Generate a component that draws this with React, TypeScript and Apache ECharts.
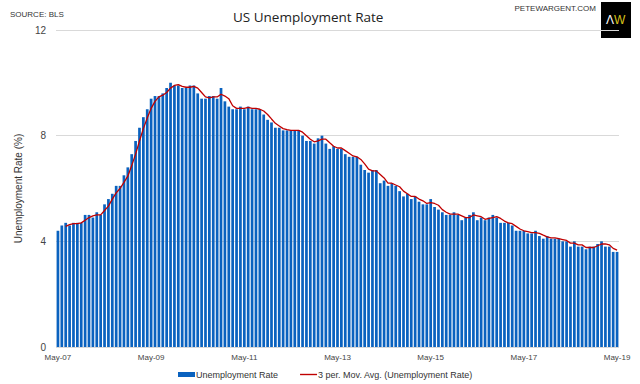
import React, { useEffect, useRef } from "react";
import * as echarts from "echarts";

const rate2007 = [4.4, 4.6, 4.7, 4.6, 4.7, 4.7, 4.7, 5.0]; // May–Dec
const rate2008 = [5.0, 4.9, 5.1, 5.0, 5.4, 5.6, 5.8, 6.1, 6.1, 6.5, 6.8, 7.3];
const rate2009 = [7.8, 8.3, 8.7, 9.0, 9.4, 9.5, 9.5, 9.6, 9.8, 10.0, 9.9, 9.9];
const rate2010 = [9.8, 9.8, 9.9, 9.9, 9.6, 9.4, 9.4, 9.5, 9.5, 9.4, 9.8, 9.3];
const rate2011 = [9.1, 9.0, 9.0, 9.1, 9.0, 9.1, 9.0, 9.0, 9.0, 8.8, 8.6, 8.5];
const rate2012 = [8.3, 8.3, 8.2, 8.2, 8.2, 8.2, 8.2, 8.0, 7.8, 7.8, 7.7, 7.9];
const rate2013 = [8.0, 7.7, 7.5, 7.6, 7.5, 7.5, 7.3, 7.2, 7.2, 7.2, 6.9, 6.7];
const rate2014 = [6.6, 6.7, 6.7, 6.2, 6.3, 6.1, 6.2, 6.1, 5.9, 5.7, 5.8, 5.6];
const rate2015 = [5.7, 5.5, 5.4, 5.4, 5.6, 5.3, 5.2, 5.1, 5.0, 5.0, 5.1, 5.0];
const rate2016 = [4.8, 4.9, 5.0, 5.1, 4.8, 4.9, 4.8, 4.9, 5.0, 4.9, 4.7, 4.7];
const rate2017 = [4.7, 4.6, 4.4, 4.4, 4.4, 4.3, 4.3, 4.4, 4.2, 4.1, 4.2, 4.1];
const rate2018 = [4.1, 4.1, 4.0, 4.0, 3.8, 4.0, 3.8, 3.8, 3.7, 3.8, 3.8, 3.9];
const rate2019 = [4.0, 3.8, 3.8, 3.6, 3.6]; // Jan–May

const monthNames = ["Jan", "Feb", "Mar", "Apr", "May", "Jun", "Jul", "Aug", "Sep", "Oct", "Nov", "Dec"];
const startYear = 2007;
const startMonth = 4; // May

const rates: number[] = [
  ...rate2007, ...rate2008, ...rate2009, ...rate2010, ...rate2011, ...rate2012, ...rate2013,
  ...rate2014, ...rate2015, ...rate2016, ...rate2017, ...rate2018, ...rate2019,
];

const categories: string[] = rates.map((_, i) => {
  const m = startMonth + i;
  const y = startYear + Math.floor(m / 12);
  return monthNames[m % 12] + "-" + String(y % 100).padStart(2, "0");
});

// 3-period trailing moving average (as Excel's trendline)
const movAvg: (number | null)[] = rates.map((_, i) =>
  i < 2 ? null : Math.round(((rates[i] + rates[i - 1] + rates[i - 2]) / 3) * 1000) / 1000
);

const yTicks = { min: 0, max: 12, interval: 4 };

export default function App() {
  const ref = useRef<HTMLDivElement>(null);
  useEffect(() => {
    if (!ref.current) return;
    const chart = echarts.init(ref.current, null, { renderer: "svg" });
    const font = "Liberation Sans, Arial, sans-serif";
    chart.setOption({
      animation: false,
      backgroundColor: "#ffffff",
      textStyle: { fontFamily: font },
      title: {
        text: "US Unemployment Rate",
        left: 228,
        top: 5,
        textStyle: { fontFamily: "Open Sans, sans-serif", fontSize: 13.5, fontWeight: "normal", color: "#222" },
      },
      graphic: [
        { type: "text", left: 10, top: 10, style: { text: "SOURCE: BLS", fontSize: 8, fill: "#333", fontFamily: font } },
        { type: "text", right: 44, top: 4, style: { text: "PETEWARGENT.COM", fontSize: 8, fill: "#333", fontFamily: font } },
        { type: "rect", shape: { x: 601, y: 2, width: 30, height: 36 }, style: { fill: "#000" } },
        { type: "text", x: 606, y: 14, style: { text: "Λ", fontSize: 12, fill: "#ffffff", fontFamily: font } },
        { type: "text", x: 614, y: 14, style: { text: "W", fontSize: 12, fill: "#d8c21a", fontFamily: font } },
      ],
      legend: {
        bottom: 0,
        left: 173,
        itemWidth: 17,
        itemHeight: 5,
        itemGap: 22,
        textStyle: { fontSize: 9, color: "#333", fontFamily: font, padding: [0, 0, 0, -4] },
        data: [
          { name: "Unemployment Rate", icon: "rect" },
          { name: "3 per. Mov. Avg. (Unemployment Rate)", icon: "path://M0,0 H16 V1.3 H0 Z" },
        ],
      },
      grid: { left: 56, right: 21, top: 30, bottom: 37 },
      xAxis: {
        type: "category",
        data: categories,
        boundaryGap: true,
        axisLine: { show: false },
        axisTick: { show: false },
        axisLabel: { interval: 23, fontSize: 8, color: "#444", margin: 6, fontFamily: font },
      },
      yAxis: {
        type: "value",
        ...yTicks,
        name: "Unemployment Rate (%)",
        nameLocation: "middle",
        nameGap: 32,
        nameTextStyle: { fontSize: 10, color: "#333", fontFamily: font },
        axisLine: { show: false },
        axisTick: { show: false },
        axisLabel: { fontSize: 10, color: "#444", margin: 10, fontFamily: font },
        splitLine: { lineStyle: { color: "#d9d9d9", width: 1 } },
      },
      series: [
        {
          name: "Unemployment Rate",
          type: "bar",
          data: rates,
          barCategoryGap: "30%",
          itemStyle: { color: "#0a62bf" },
        },
        {
          name: "3 per. Mov. Avg. (Unemployment Rate)",
          type: "line",
          data: movAvg,
          symbol: "none",
          smooth: false,
          lineStyle: { color: "#c00000", width: 1.3 },
          itemStyle: { color: "#c00000" },
        },
      ],
    });
    return () => chart.dispose();
  }, []);
  return <div ref={ref} style={{ position: "absolute", left: 0, top: 0, width: 640, height: 384 }} />;
}
